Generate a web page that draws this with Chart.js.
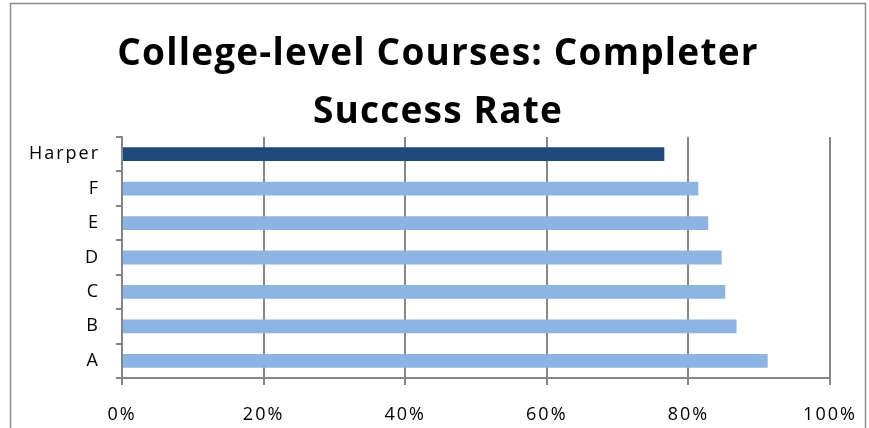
<!DOCTYPE html>
<html>
<head>
<meta charset="utf-8">
<script src="https://cdn.jsdelivr.net/npm/chart.js@4/dist/chart.umd.min.js"></script>
<style>
  html, body { margin: 0; padding: 0; background: #fff; }
  #wrap { width: 869px; height: 428px; position: relative; }
</style>
</head>
<body>
<div id="wrap"><canvas id="c" width="869" height="428"></canvas></div>
<script>
const categories = ["Harper", "F", "E", "D", "C", "B", "A"];
const successRate = [76.6, 81.4, 82.8, 84.7, 85.2, 86.8, 91.2];
const barColors = ["#1F497D", "#8DB3E2", "#8DB3E2", "#8DB3E2", "#8DB3E2", "#8DB3E2", "#8DB3E2"];
const titleLines = ["College-level Courses: Completer", "Success Rate"];

const tickFont = { family: "'Open Sans', 'Liberation Sans', Arial, sans-serif", size: 18 };

const spacingPlugin = {
  id: 'spacing',
  beforeDraw(chart) {
    chart.ctx.letterSpacing = '2px';
    const tb = chart.titleBlock;
    if (tb && !tb._wrapped) {
      const orig = tb.draw.bind(tb);
      tb.draw = function () {
        const ctx = chart.ctx;
        const prev = ctx.letterSpacing;
        ctx.letterSpacing = '1.2px';
        orig();
        ctx.letterSpacing = prev;
      };
      tb._wrapped = true;
    }
  }
};

const framePlugin = {
  id: 'frame',
  afterDraw(chart) {
    const ctx = chart.ctx;
    ctx.save();
    ctx.strokeStyle = '#8c8c8c';
    ctx.lineWidth = 1.5;
    ctx.beginPath();
    ctx.moveTo(10.5, 430);
    ctx.lineTo(10.5, 3.5);
    ctx.lineTo(865.5, 3.5);
    ctx.lineTo(865.5, 430);
    ctx.stroke();
    ctx.restore();
  }
};

new Chart(document.getElementById('c'), {
  type: 'bar',
  data: {
    labels: categories,
    datasets: [{
      data: successRate,
      backgroundColor: barColors,
      borderWidth: 0,
      categoryPercentage: 0.4,
      barPercentage: 1.0
    }]
  },
  options: {
    indexAxis: 'y',
    responsive: false,
    animation: false,
    devicePixelRatio: 1,
    layout: { padding: { left: 7, right: 0, top: 0, bottom: 0 } },
    plugins: {
      legend: { display: false },
      tooltip: { enabled: false },
      title: {
        display: true,
        text: titleLines,
        color: '#000',
        font: { family: "'Open Sans', Lato, 'Liberation Sans', Arial, sans-serif", size: 37, weight: 'bold', lineHeight: '58px' },
        padding: { top: 25, bottom: -4 }
      }
    },
    scales: {
      x: {
        min: 0,
        max: 100,
        afterFit(scale) { scale.height = 50; scale.paddingRight = 0; scale.paddingLeft = 0; },
        ticks: {
          stepSize: 20,
          color: '#000',
          font: tickFont,
          padding: 19,
          maxRotation: 0,
          callback: v => v + '%'
        },
        grid: {
          color: '#868686',
          lineWidth: 2,
          tickLength: 7,
          drawOnChartArea: true
        },
        border: { color: '#868686', width: 2 }
      },
      y: {
        afterFit(scale) { scale.width = 115; },
        ticks: { color: '#000', font: tickFont, padding: 16 },
        grid: {
          color: '#868686',
          lineWidth: 2,
          tickLength: 6,
          drawOnChartArea: false,
          offset: true
        },
        border: { color: '#868686', width: 2 }
      },
      yRight: {
        type: 'category',
        labels: categories,
        position: 'right',
        afterFit(scale) { scale.width = 39; },
        ticks: { display: false },
        grid: { display: false, drawTicks: false },
        border: { display: false }
      }
    }
  },
  plugins: [spacingPlugin, framePlugin]
});
</script>
</body>
</html>
